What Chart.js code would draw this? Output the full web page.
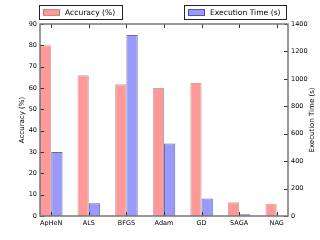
<!DOCTYPE html>
<html>
<head>
<meta charset="utf-8">
<script src="https://cdn.jsdelivr.net/npm/chart.js@4"></script>
<style>
  html, body { margin: 0; padding: 0; background: #fff; }
  #wrap { width: 320px; height: 240px; }
</style>
</head>
<body>
<div id="wrap"><canvas id="chart" width="320" height="240"></canvas></div>
<script>
const methods = ['ApHeN', 'ALS', 'BFGS', 'Adam', 'GD', 'SAGA', 'NAG'];
const accuracy = [80, 66, 61.7, 60, 62.3, 6.4, 5.8];
const execTime = [467, 93, 1320, 529, 127, 12, 0];
const accTicks = [0, 10, 20, 30, 40, 50, 60, 70, 80, 90];
const timeTicks = [0, 200, 400, 600, 800, 1000, 1200, 1400];

const FONT = 'DejaVu Sans';
Chart.defaults.font.family = FONT;
Chart.defaults.font.size = 6.5;
Chart.defaults.color = '#000';

// frame, inside ticks, axis titles and the two split legends
const decorations = {
  id: 'decorations',
  afterDraw(chart) {
    const ctx = chart.ctx;
    const a = chart.chartArea;
    const { x, yAcc, yTime } = chart.scales;
    ctx.save();

    // inside tick marks
    ctx.strokeStyle = '#333';
    ctx.lineWidth = 1;
    ctx.beginPath();
    methods.forEach((m, i) => {
      const px = Math.round(x.getPixelForValue(i)) + 0.5;
      ctx.moveTo(px, a.top); ctx.lineTo(px, a.top + 4);
      ctx.moveTo(px, a.bottom); ctx.lineTo(px, a.bottom - 4);
    });
    accTicks.forEach(v => {
      const py = Math.round(yAcc.getPixelForValue(v)) + 0.5;
      ctx.moveTo(a.left, py); ctx.lineTo(a.left + 4, py);
    });
    timeTicks.forEach(v => {
      const py = Math.round(yTime.getPixelForValue(v)) + 0.5;
      ctx.moveTo(a.right, py); ctx.lineTo(a.right - 4, py);
    });
    ctx.stroke();

    // frame
    ctx.strokeStyle = '#777';
    ctx.lineWidth = 1.5;
    ctx.strokeRect(a.left, a.top, a.right - a.left, a.bottom - a.top);

    // axis titles
    ctx.fillStyle = '#000';
    ctx.font = '7px "' + FONT + '"';
    ctx.textAlign = 'center';
    ctx.textBaseline = 'middle';
    const midY = (a.top + a.bottom) / 2;
    ctx.save();
    ctx.translate(22, midY);
    ctx.rotate(-Math.PI / 2);
    ctx.fillText('Accuracy (%)', 0, 0);
    ctx.restore();
    ctx.save();
    ctx.translate(312, midY);
    ctx.rotate(-Math.PI / 2);
    ctx.fillText('Execution Time (s)', 0, 0);
    ctx.restore();

    // legends
    const ds = chart.data.datasets;
    const drawLegend = (left, right, d) => {
      ctx.fillStyle = '#fff';
      ctx.fillRect(left, 5.5, right - left, 14);
      ctx.strokeStyle = '#222';
      ctx.lineWidth = 1;
      ctx.strokeRect(left + 0.5, 5.5, right - left, 14);
      ctx.fillStyle = d.backgroundColor;
      ctx.fillRect(left + 4, 9.5, 17, 6);
      ctx.strokeStyle = d.borderColor;
      ctx.strokeRect(left + 4.5, 9.5, 16, 6);
      ctx.fillStyle = '#000';
      ctx.font = '7.6px "' + FONT + '"';
      ctx.textAlign = 'left';
      ctx.fillText(d.label, left + 26, 13);
    };
    drawLegend(39, 122, ds[0]);
    drawLegend(184, 286, ds[1]);

    ctx.restore();
  }
};

new Chart(document.getElementById('chart'), {
  type: 'bar',
  data: {
    datasets: [
      {
        label: 'Accuracy (%)',
        data: accuracy.map((v, i) => ({ x: i, y: v })),
        yAxisID: 'yAcc',
        backgroundColor: 'rgb(255,153,153)',
        borderColor: 'rgba(120,60,60,0.45)',
        borderWidth: 1
      },
      {
        label: 'Execution Time (s)',
        data: execTime.map((v, i) => ({ x: i, y: v })),
        yAxisID: 'yTime',
        backgroundColor: 'rgb(153,153,255)',
        borderColor: 'rgba(40,40,110,0.7)',
        borderWidth: 1
      }
    ]
  },
  options: {
    responsive: false,
    animation: false,
    events: [],
    layout: { padding: { top: 24, left: 0, right: 0, bottom: 0 } },
    datasets: { bar: { categoryPercentage: 0.6, barPercentage: 1.0 } },
    plugins: { legend: { display: false }, tooltip: { enabled: false } },
    scales: {
      x: {
        type: 'linear',
        min: -0.3,
        max: 6.3,
        offset: false,
        grid: { display: false, drawTicks: false },
        border: { display: false },
        afterBuildTicks: axis => { axis.ticks = methods.map((m, i) => ({ value: i })); },
        afterFit: axis => { axis.height = 24; },
        ticks: { padding: 3, maxRotation: 0, autoSkip: false, callback: v => methods[v] }
      },
      yAcc: {
        type: 'linear',
        position: 'left',
        min: 0,
        max: 90,
        grid: { display: false, drawTicks: false },
        border: { display: false },
        afterFit: axis => { axis.width = 40; },
        ticks: { stepSize: 10, padding: 3, callback: v => String(v) }
      },
      yTime: {
        type: 'linear',
        position: 'right',
        min: 0,
        max: 1400,
        grid: { display: false, drawTicks: false },
        border: { display: false },
        afterFit: axis => { axis.width = 32; },
        ticks: { stepSize: 200, padding: 3, callback: v => String(v) }
      }
    }
  },
  plugins: [decorations]
});
</script>
</body>
</html>
